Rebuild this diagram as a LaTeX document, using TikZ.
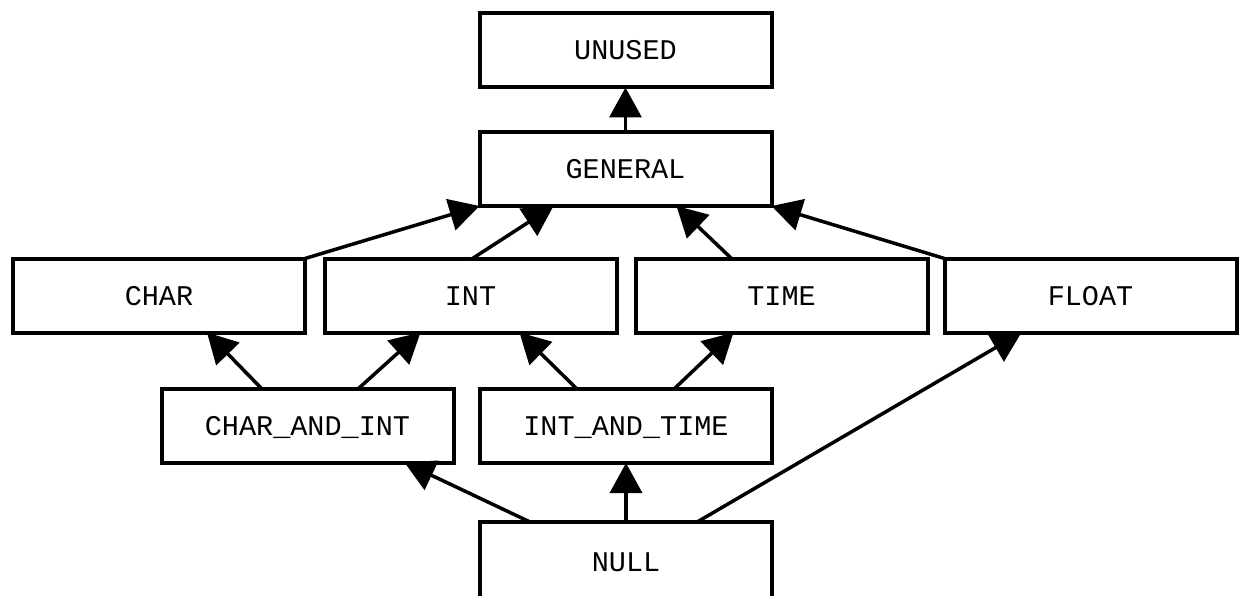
\documentclass[tikz,border=0pt]{standalone}
\usepackage{fontspec}
\setmonofont{Liberation Mono}
\usetikzlibrary{arrows.meta}
\begin{document}
\begin{tikzpicture}[x=1pt,y=-1pt,
  box/.style={draw=black, line width=4pt, fill=white, minimum width=292pt, minimum height=74pt,
    inner sep=0pt, outer sep=0pt, text height=19pt, text depth=0pt,
    font=\ttfamily\fontsize{28.5}{34}\selectfont},
  edge/.style={draw=black, line width=3.5pt, -{Triangle[length=30pt 0, width=32pt 0]}}
]
\useasboundingbox (0,0) rectangle (1239,596);
\node[box] (unused) at (625.5,50.5) {UNUSED};
\node[box] (general) at (625.5,169) {GENERAL};
\node[box] (char) at (159,295.5) {CHAR};
\node[box] (int) at (470.5,295.5) {INT};
\node[box] (time) at (781.5,295.5) {TIME};
\node[box] (float) at (1090.5,295.5) {FLOAT};
\node[box] (cai) at (307.5,425.5) {CHAR\_AND\_INT};
\node[box] (iat) at (626,426) {INT\_AND\_TIME};
\node[box, minimum height=80pt] (null) at (626,561.5) {NULL};

\draw[edge] (general.north) -- (unused.south);
\draw[edge] (char.north east) -- (general.south west);
\draw[edge] ([xshift=2pt]int.north) -- ([xshift=-72pt]general.south);
\draw[edge] ([xshift=-50pt]time.north) -- ([xshift=51pt]general.south);
\draw[edge] (float.north west) -- (general.south east);
\draw[edge] ([xshift=-46pt]cai.north) -- ([xshift=48pt]char.south);
\draw[edge] ([xshift=51pt]cai.north) -- ([xshift=-50pt]int.south);
\draw[edge] ([xshift=-49pt]iat.north) -- ([xshift=49pt]int.south);
\draw[edge] ([xshift=48pt]iat.north) -- ([xshift=-48pt]time.south);
\draw[edge] ([xshift=-97pt]null.north) -- ([xshift=97pt]cai.south);
\draw[edge] (null.north) -- (iat.south);
\draw[edge] ([xshift=72pt]null.north) -- ([xshift=-69pt]float.south);
\end{tikzpicture}
\end{document}
